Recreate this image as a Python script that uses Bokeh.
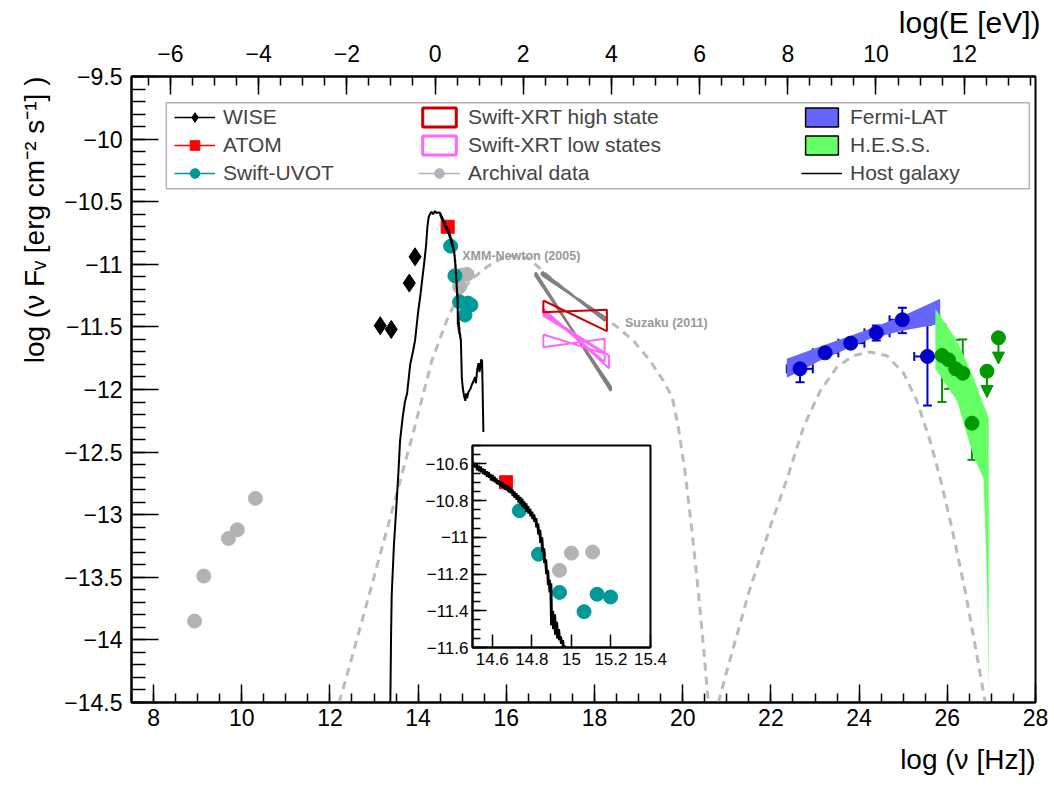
import numpy as np
from bokeh.plotting import figure
from bokeh.models import (Range1d, LinearAxis, FixedTicker, CustomJSTickFormatter, Legend, LegendItem,
                          BoxAnnotation, Label, ColumnDataSource, Whisker, TeeHead, Arrow, NormalHead, Title)
from bokeh.layouts import column
from bokeh.embed import file_html
from bokeh.resources import INLINE

FONT = "Liberation Sans"
NAN = float("nan")

# ---------------- data ----------------
wise_x = [13.14, 13.39, 13.80, 13.93]
wise_y = [-11.49, -11.52, -11.15, -10.94]

atom_x = [14.67]
atom_y = [-10.70]

uvot_x = [14.737, 14.834, 14.94, 15.064, 15.13, 15.198]
uvot_y = [-10.855, -11.092, -11.30, -11.405, -11.31, -11.325]

arch_x = [8.93, 9.14, 9.70, 9.90, 10.31, 14.94, 15.00, 15.107]
arch_y = [-13.85, -13.49, -13.19, -13.12, -12.87, -11.18, -11.086, -11.08]

host_x = [13.37, 13.385, 13.40, 13.45, 13.50, 13.55, 13.59, 13.65, 13.70, 13.75, 13.82, 13.88, 13.93,
          14.00, 14.05, 14.09, 14.14, 14.18, 14.21, 14.24, 14.27, 14.30, 14.34, 14.38, 14.42, 14.46,
          14.500, 14.505, 14.510, 14.515, 14.520, 14.525, 14.530, 14.535, 14.540, 14.545, 14.550,
          14.555, 14.560, 14.565, 14.570, 14.575, 14.580, 14.585, 14.590, 14.595, 14.600, 14.605,
          14.610, 14.615, 14.620, 14.625, 14.630, 14.635, 14.640, 14.645, 14.650, 14.655, 14.660,
          14.665, 14.670, 14.675, 14.680, 14.685, 14.690, 14.695, 14.700, 14.705, 14.710, 14.715,
          14.720, 14.725, 14.730, 14.735, 14.740, 14.745, 14.750, 14.755, 14.760, 14.765, 14.770,
          14.775, 14.780, 14.785, 14.790, 14.795, 14.800, 14.805, 14.810, 14.815, 14.820, 14.825,
          14.830, 14.835, 14.840, 14.845, 14.850, 14.855, 14.860, 14.865, 14.870, 14.875, 14.880,
          14.884, 14.888, 14.892, 14.896, 14.900, 14.905, 14.910, 14.915, 14.920, 14.925, 14.930,
          14.935, 14.940, 14.945, 14.950, 14.955, 14.960, 14.965, 14.970,
          14.98, 14.99, 15.01, 15.04, 15.07, 15.09, 15.11, 15.14, 15.18, 15.22, 15.26, 15.29, 15.31,
          15.34, 15.37, 15.39, 15.41, 15.43, 15.45, 15.46, 15.47, 15.48]
host_y = [-14.50, -14.00, -13.65, -13.25, -12.97, -12.68, -12.41, -12.22, -12.10, -12.03, -11.80, -11.70, -11.61,
          -11.38, -11.25, -11.13, -10.98, -10.85, -10.70, -10.62, -10.60, -10.58, -10.60, -10.575, -10.59, -10.585,
          -10.590, -10.615, -10.595, -10.620, -10.600, -10.635, -10.610, -10.640, -10.615, -10.645, -10.625,
          -10.655, -10.630, -10.660, -10.640, -10.670, -10.645, -10.675, -10.655, -10.690, -10.660, -10.695,
          -10.670, -10.700, -10.680, -10.710, -10.690, -10.715, -10.695, -10.725, -10.700, -10.730, -10.710,
          -10.740, -10.715, -10.745, -10.720, -10.755, -10.730, -10.760, -10.740, -10.775, -10.750, -10.785,
          -10.760, -10.795, -10.770, -10.810, -10.780, -10.820, -10.790, -10.835, -10.805, -10.845, -10.815,
          -10.860, -10.830, -10.870, -10.845, -10.885, -10.860, -10.900, -10.875, -10.915, -10.895, -10.945,
          -10.925, -10.985, -10.960, -11.030, -11.000, -11.080, -11.060, -11.140, -11.120, -11.200, -11.180,
          -11.260, -11.230, -11.300, -11.250, -11.480, -11.400, -11.500, -11.420, -11.530, -11.460, -11.550,
          -11.500, -11.560, -11.540, -11.580, -11.560, -11.600, -11.590, -11.620,
          -11.75, -11.90, -11.98, -12.05, -12.09, -12.03, -12.07, -12.02, -12.00, -11.96, -11.93, -11.90, -11.95,
          -11.84, -11.79, -11.86, -11.82, -11.76, -11.77, -11.95, -12.15, -12.34]

sync_x = [12.21, 12.42, 12.85, 13.40, 13.90, 14.31, 14.69, 14.95, 15.18, 15.56, 16.01, 16.50, 17.04, 17.52,
          18.01, 18.51, 18.88, 19.26, 19.56, 19.76, 19.90, 20.05, 20.20, 20.35, 20.47, 20.58]
sync_y = [-14.50, -14.24, -13.69, -12.98, -12.33, -11.77, -11.41, -11.24, -11.13, -11.02, -10.93, -10.95, -11.12, -11.25,
          -11.37, -11.50, -11.61, -11.77, -11.93, -12.06, -12.30, -12.65, -13.10, -13.60, -14.05, -14.50]

ic_x = [20.81, 21.00, 21.50, 22.00, 22.36, 22.74, 23.12, 23.50, 23.87, 24.25, 24.63, 25.01, 25.31, 25.61,
        25.84, 26.10, 26.40, 26.65, 26.86]
ic_y = [-14.50, -14.25, -13.62, -13.08, -12.72, -12.30, -12.01, -11.82, -11.73, -11.70, -11.73, -11.87, -12.09, -12.41,
        -12.71, -13.10, -13.60, -14.08, -14.50]

# X-ray bow-ties: x0, x1, y top-left, y bottom-left, y top-right, y bottom-right
xrt_high = [(16.84, 18.28, -11.289, -11.383, -11.363, -11.534)]
xrt_low = [(16.84, 18.33, -11.355, -11.395, -11.73, -11.83),
           (16.84, 18.23, -11.37, -11.41, -11.715, -11.78),
           (16.84, 18.23, -11.561, -11.662, -11.595, -11.715)]
xray_arch = [(16.81, 18.24, -11.06, -11.085, -11.425, -11.45),
             (16.66, 18.37, -11.065, -11.09, -11.98, -12.01)]

fermi_band_x = [22.36, 23.12, 24.25, 25.01, 25.84]
fermi_band_hi = [-11.755, -11.657, -11.515, -11.409, -11.276]
fermi_band_lo = [-11.907, -11.768, -11.595, -11.529, -11.475]

fermi_x = [22.66, 23.23, 23.81, 24.39, 24.98, 25.55]
fermi_y = [-11.835, -11.707, -11.630, -11.547, -11.443, -11.736]
fermi_xlo = [22.36, 22.95, 23.53, 24.12, 24.69, 25.25]
fermi_xhi = [22.95, 23.53, 24.12, 24.69, 25.27, 25.84]
fermi_ylo = [-11.942, -11.74, -11.66, -11.609, -11.55, -12.128]
fermi_yhi = [-11.755, -11.675, -11.60, -11.489, -11.347, -11.483]

hess_band_x = [25.73, 26.22, 26.60, 26.82, 26.88, 26.92, 26.94]
hess_band_hi = [-11.355, -11.61, -11.91, -12.12, -12.17, -12.21, -12.23]
hess_band_lo = [-11.835, -12.09, -12.54, -12.71, -13.30, -13.90, -14.45]

hess_x = [25.88, 26.03, 26.19, 26.35, 26.56]
hess_y = [-11.728, -11.763, -11.835, -11.870, -12.269]
hess_ylo = [-12.10, -11.995, -12.016, -12.066, -12.562]
hess_yhi = [-11.483, -11.574, -11.603, -11.600, -12.136]

hess_ul_x = [26.90, 27.16]
hess_ul_y = [-11.854, -11.587]
ul_len = 0.21

x_ticks = list(range(8, 29, 2))
x_minor = [round(7.5 + 0.5 * i, 2) for i in range(42)]
y_ticks = [round(-14.5 + 0.5 * i, 2) for i in range(11)]
y_minor = [round(-14.5 + 0.1 * i, 2) for i in range(51)]
e_ticks = list(range(-6, 13, 2))
E_OFFSET = 14.383  # log10(h / eV s)
e_minor = [round(-7.0 + 0.5 * i, 2) for i in range(42)]

in_x_ticks = [14.6, 14.8, 15.0, 15.2, 15.4]
in_y_ticks = [-11.6, -11.4, -11.2, -11.0, -10.8, -10.6]
in_y_minor = [round(-11.6 + 0.05 * i, 3) for i in range(23)]

# colours
C_UVOT = "#009999"
C_ATOM = "#ff0000"
C_ARCH = "#b3b3b3"
C_FERMI = "#0000cc"
C_FERMI_BAND = "#6666ff"
C_HESS = "#009900"
C_HESS_BAND = "#66ff66"
C_XRT_HI = "#cc0000"
C_XRT_LO = "#ff66ff"
C_DASH = "#bbbbbb"
C_XARCH = "#808080"

fmt_code = """
const a = Math.abs(tick);
let s = a.toFixed(1);
if (s.endsWith('.0')) { s = s.slice(0, -2); }
return (tick < -1e-9 ? '\u2212' : '') + s;
"""

# shared borders (the column layout aligns them)
BL, BR, BT, BB = 131, 19, 76, 86


def bowtie(b):
    x0, x1, tl, bl, tr, br = b
    return [x0, x1, x1, x0, x0], [tl, br, tr, bl, tl]


def style_axis(ax, tick_in, minor_in, size="23px", standoff=6):
    ax.major_tick_in = tick_in
    ax.major_tick_out = 0
    ax.minor_tick_in = minor_in
    ax.minor_tick_out = 0
    ax.axis_line_width = 2
    ax.major_tick_line_width = 1.5
    ax.minor_tick_line_width = 1.5
    ax.major_label_text_font = FONT
    ax.major_label_text_font_size = size
    ax.major_label_text_color = "black"
    ax.major_label_standoff = standoff


def axis_title(text, side, standoff, offset=0, size="28px"):
    p.add_layout(Title(text=text, align="right", text_font=FONT, text_font_size=size,
                       text_font_style="normal", text_color="black", standoff=standoff,
                       offset=offset), side)


# ---------------- main figure ----------------
p = figure(width=1054, height=788, x_range=Range1d(7.5, 28), y_range=Range1d(-14.5, -9.5),
           output_backend="svg", toolbar_location=None,
           min_border_left=BL, min_border_right=BR, min_border_top=BT, min_border_bottom=BB,
           background_fill_color="white", border_fill_color="white")
p.grid.visible = False
p.outline_line_color = "black"
p.outline_line_width = 2

xa = p.xaxis[0]
xa.ticker = FixedTicker(ticks=x_ticks, minor_ticks=x_minor)
xa.formatter = CustomJSTickFormatter(code=fmt_code)
style_axis(xa, 18, 9, standoff=6)

ya = p.yaxis[0]
ya.ticker = FixedTicker(ticks=y_ticks, minor_ticks=y_minor)
ya.formatter = CustomJSTickFormatter(code=fmt_code)
style_axis(ya, 27, 14, standoff=9)

p.extra_x_ranges = {"E": Range1d(7.5 - E_OFFSET, 28 - E_OFFSET)}
ta = LinearAxis(x_range_name="E", ticker=FixedTicker(ticks=e_ticks, minor_ticks=e_minor),
                formatter=CustomJSTickFormatter(code=fmt_code))
style_axis(ta, 18, 9, standoff=15)
p.add_layout(ta, "above")

axis_title("log (ν [Hz])", "below", 27)
axis_title("log (ν Fᵥ [erg cm⁻² s⁻¹] )", "left", 24)
axis_title("log(E [eV])", "above", 6, offset=-5, size="30px")

# model curves
p.line(sync_x, sync_y, line_color=C_DASH, line_width=3, line_dash="8 6")
p.line(ic_x, ic_y, line_color=C_DASH, line_width=3, line_dash="8 6")

# bands
p.varea(x=fermi_band_x, y1=fermi_band_lo, y2=fermi_band_hi, fill_color=C_FERMI_BAND)
p.varea(x=hess_band_x, y1=hess_band_lo, y2=hess_band_hi, fill_color=C_HESS_BAND)

# X-ray bow-ties
ax_xs, ax_ys = zip(*[bowtie(b) for b in xray_arch])
p.multi_line(list(ax_xs), list(ax_ys), line_color=C_XARCH, line_width=2.5)
lo_xs, lo_ys = zip(*[bowtie(b) for b in xrt_low])
p.multi_line(list(lo_xs), list(lo_ys), line_color=C_XRT_LO, line_width=2)
hi_xs, hi_ys = zip(*[bowtie(b) for b in xrt_high])
p.multi_line(list(hi_xs), list(hi_ys), line_color=C_XRT_HI, line_width=2)

p.add_layout(Label(x=15.0, y=-10.93, text="XMM-Newton (2005)", text_font=FONT, text_font_size="12.5px",
                   text_font_style="bold", text_color="#999999", text_baseline="middle"))
p.add_layout(Label(x=18.69, y=-11.47, text="Suzaku (2011)", text_font=FONT, text_font_size="12.5px",
                   text_font_style="bold", text_color="#999999", text_baseline="middle"))

# Fermi points
fsrc = ColumnDataSource(dict(x=fermi_x, y=fermi_y, xlo=fermi_xlo, xhi=fermi_xhi, ylo=fermi_ylo, yhi=fermi_yhi))
for dim, base, lo, hi in (("height", "x", "ylo", "yhi"), ("width", "y", "xlo", "xhi")):
    p.add_layout(Whisker(source=fsrc, base=base, lower=lo, upper=hi, dimension=dim,
                         line_color=C_FERMI, line_width=2,
                         upper_head=TeeHead(size=9, line_color=C_FERMI, line_width=2),
                         lower_head=TeeHead(size=9, line_color=C_FERMI, line_width=2)))
p.scatter("x", "y", source=fsrc, marker="circle", size=14, fill_color=C_FERMI, line_color=C_FERMI)

# HESS points
hsrc = ColumnDataSource(dict(x=hess_x, y=hess_y, ylo=hess_ylo, yhi=hess_yhi))
p.add_layout(Whisker(source=hsrc, base="x", lower="ylo", upper="yhi", dimension="height",
                     line_color=C_HESS, line_width=2,
                     upper_head=TeeHead(size=9, line_color=C_HESS, line_width=2),
                     lower_head=TeeHead(size=9, line_color=C_HESS, line_width=2)))
p.scatter("x", "y", source=hsrc, marker="circle", size=14, fill_color=C_HESS, line_color=C_HESS)
ulsrc = ColumnDataSource(dict(x=hess_ul_x, y=hess_ul_y, yend=[v - ul_len for v in hess_ul_y]))
p.add_layout(Arrow(source=ulsrc, x_start="x", y_start="y", x_end="x", y_end="yend",
                   line_color=C_HESS, line_width=2,
                   end=NormalHead(size=12, fill_color=C_HESS, line_color=C_HESS)))
p.scatter("x", "y", source=ulsrc, marker="circle", size=14, fill_color=C_HESS, line_color=C_HESS)


def add_points(fig, x, y, marker, size, color):
    return fig.scatter(x, y, marker=marker, size=size, fill_color=color, line_color=color)


arch_r = add_points(p, arch_x, arch_y, "circle", 14, C_ARCH)
uvot_r = add_points(p, uvot_x, uvot_y, "circle", 14, C_UVOT)
atom_r = add_points(p, atom_x, atom_y, "square", 13, C_ATOM)
wise_r = add_points(p, wise_x, wise_y, "diamond", 18, "black")
host_r = p.line(host_x, host_y, line_color="black", line_width=2)

# legend proxies (NaN data: nothing drawn in the plot)
wise_l = p.line(x=[NAN], y=[NAN], line_color="black", line_width=1.5)
atom_l = p.line(x=[NAN], y=[NAN], line_color=C_ATOM, line_width=1.5)
uvot_l = p.line(x=[NAN], y=[NAN], line_color=C_UVOT, line_width=1.5)
arch_l = p.line(x=[NAN], y=[NAN], line_color=C_ARCH, line_width=1.5)
hi_box = p.patch(x=[NAN], y=[NAN], fill_alpha=0, line_color=C_XRT_HI, line_width=3)
lo_box = p.patch(x=[NAN], y=[NAN], fill_alpha=0, line_color=C_XRT_LO, line_width=3)
fermi_box = p.patch(x=[NAN], y=[NAN], fill_color=C_FERMI_BAND, line_color="black", line_width=1.5)
hess_box = p.patch(x=[NAN], y=[NAN], fill_color=C_HESS_BAND, line_color="black", line_width=1.5)
host_l = p.line(x=[NAN], y=[NAN], line_color="black", line_width=1.5)

p.add_layout(BoxAnnotation(left=8.29, right=27.86, top=-9.71, bottom=-10.397,
                           fill_alpha=0, line_color="black", line_width=1.5))


def make_legend(items, vx, gw):
    lg = Legend(items=items, location=(vx, 517), orientation="vertical",
                glyph_width=gw, glyph_height=24, label_height=24, spacing=4, padding=0, margin=0,
                label_standoff=8, label_text_font=FONT, label_text_font_size="21px",
                border_line_alpha=0, background_fill_alpha=0)
    p.add_layout(lg, "center")


make_legend([LegendItem(label="WISE", renderers=[wise_l, wise_r]),
             LegendItem(label="ATOM", renderers=[atom_l, atom_r]),
             LegendItem(label="Swift-UVOT", renderers=[uvot_l, uvot_r])], 43, 41)
make_legend([LegendItem(label="Swift-XRT high state", renderers=[hi_box]),
             LegendItem(label="Swift-XRT low states", renderers=[lo_box]),
             LegendItem(label="Archival data", renderers=[arch_l, arch_r])], 287, 42)
make_legend([LegendItem(label="Fermi-LAT", renderers=[fermi_box]),
             LegendItem(label="H.E.S.S.", renderers=[hess_box]),
             LegendItem(label="Host galaxy", renderers=[host_l])], 670, 41)

# ---------------- inset ----------------
IN_FW, IN_FH = 178, 202
ins = figure(width=BL + IN_FW + BR, height=BT + IN_FH + BB,
             x_range=Range1d(14.5, 15.4), y_range=Range1d(-11.6, -10.5),
             output_backend="svg", toolbar_location=None,
             min_border_left=BL, min_border_right=BR, min_border_top=BT, min_border_bottom=BB,
             background_fill_color="white", border_fill_alpha=0,
             margin=(445 - BT - 788, 0, 0, 472 - BL))
ins.grid.visible = False
ins.outline_line_color = "black"
ins.outline_line_width = 2
ix = ins.xaxis[0]
ix.ticker = FixedTicker(ticks=in_x_ticks, minor_ticks=[])
ix.formatter = CustomJSTickFormatter(code=fmt_code)
style_axis(ix, 13, 0, size="17px", standoff=5)
iy = ins.yaxis[0]
iy.ticker = FixedTicker(ticks=in_y_ticks, minor_ticks=in_y_minor)
iy.formatter = CustomJSTickFormatter(code=fmt_code)
style_axis(iy, 14, 8, size="17px", standoff=4)

add_points(ins, arch_x, arch_y, "circle", 14, C_ARCH)
add_points(ins, uvot_x, uvot_y, "circle", 14, C_UVOT)
add_points(ins, atom_x, atom_y, "square", 13, C_ATOM)
ins.line(host_x, host_y, line_color="black", line_width=3)

layout = column(p, ins)
open("out.html", "w").write(file_html(layout, INLINE))
